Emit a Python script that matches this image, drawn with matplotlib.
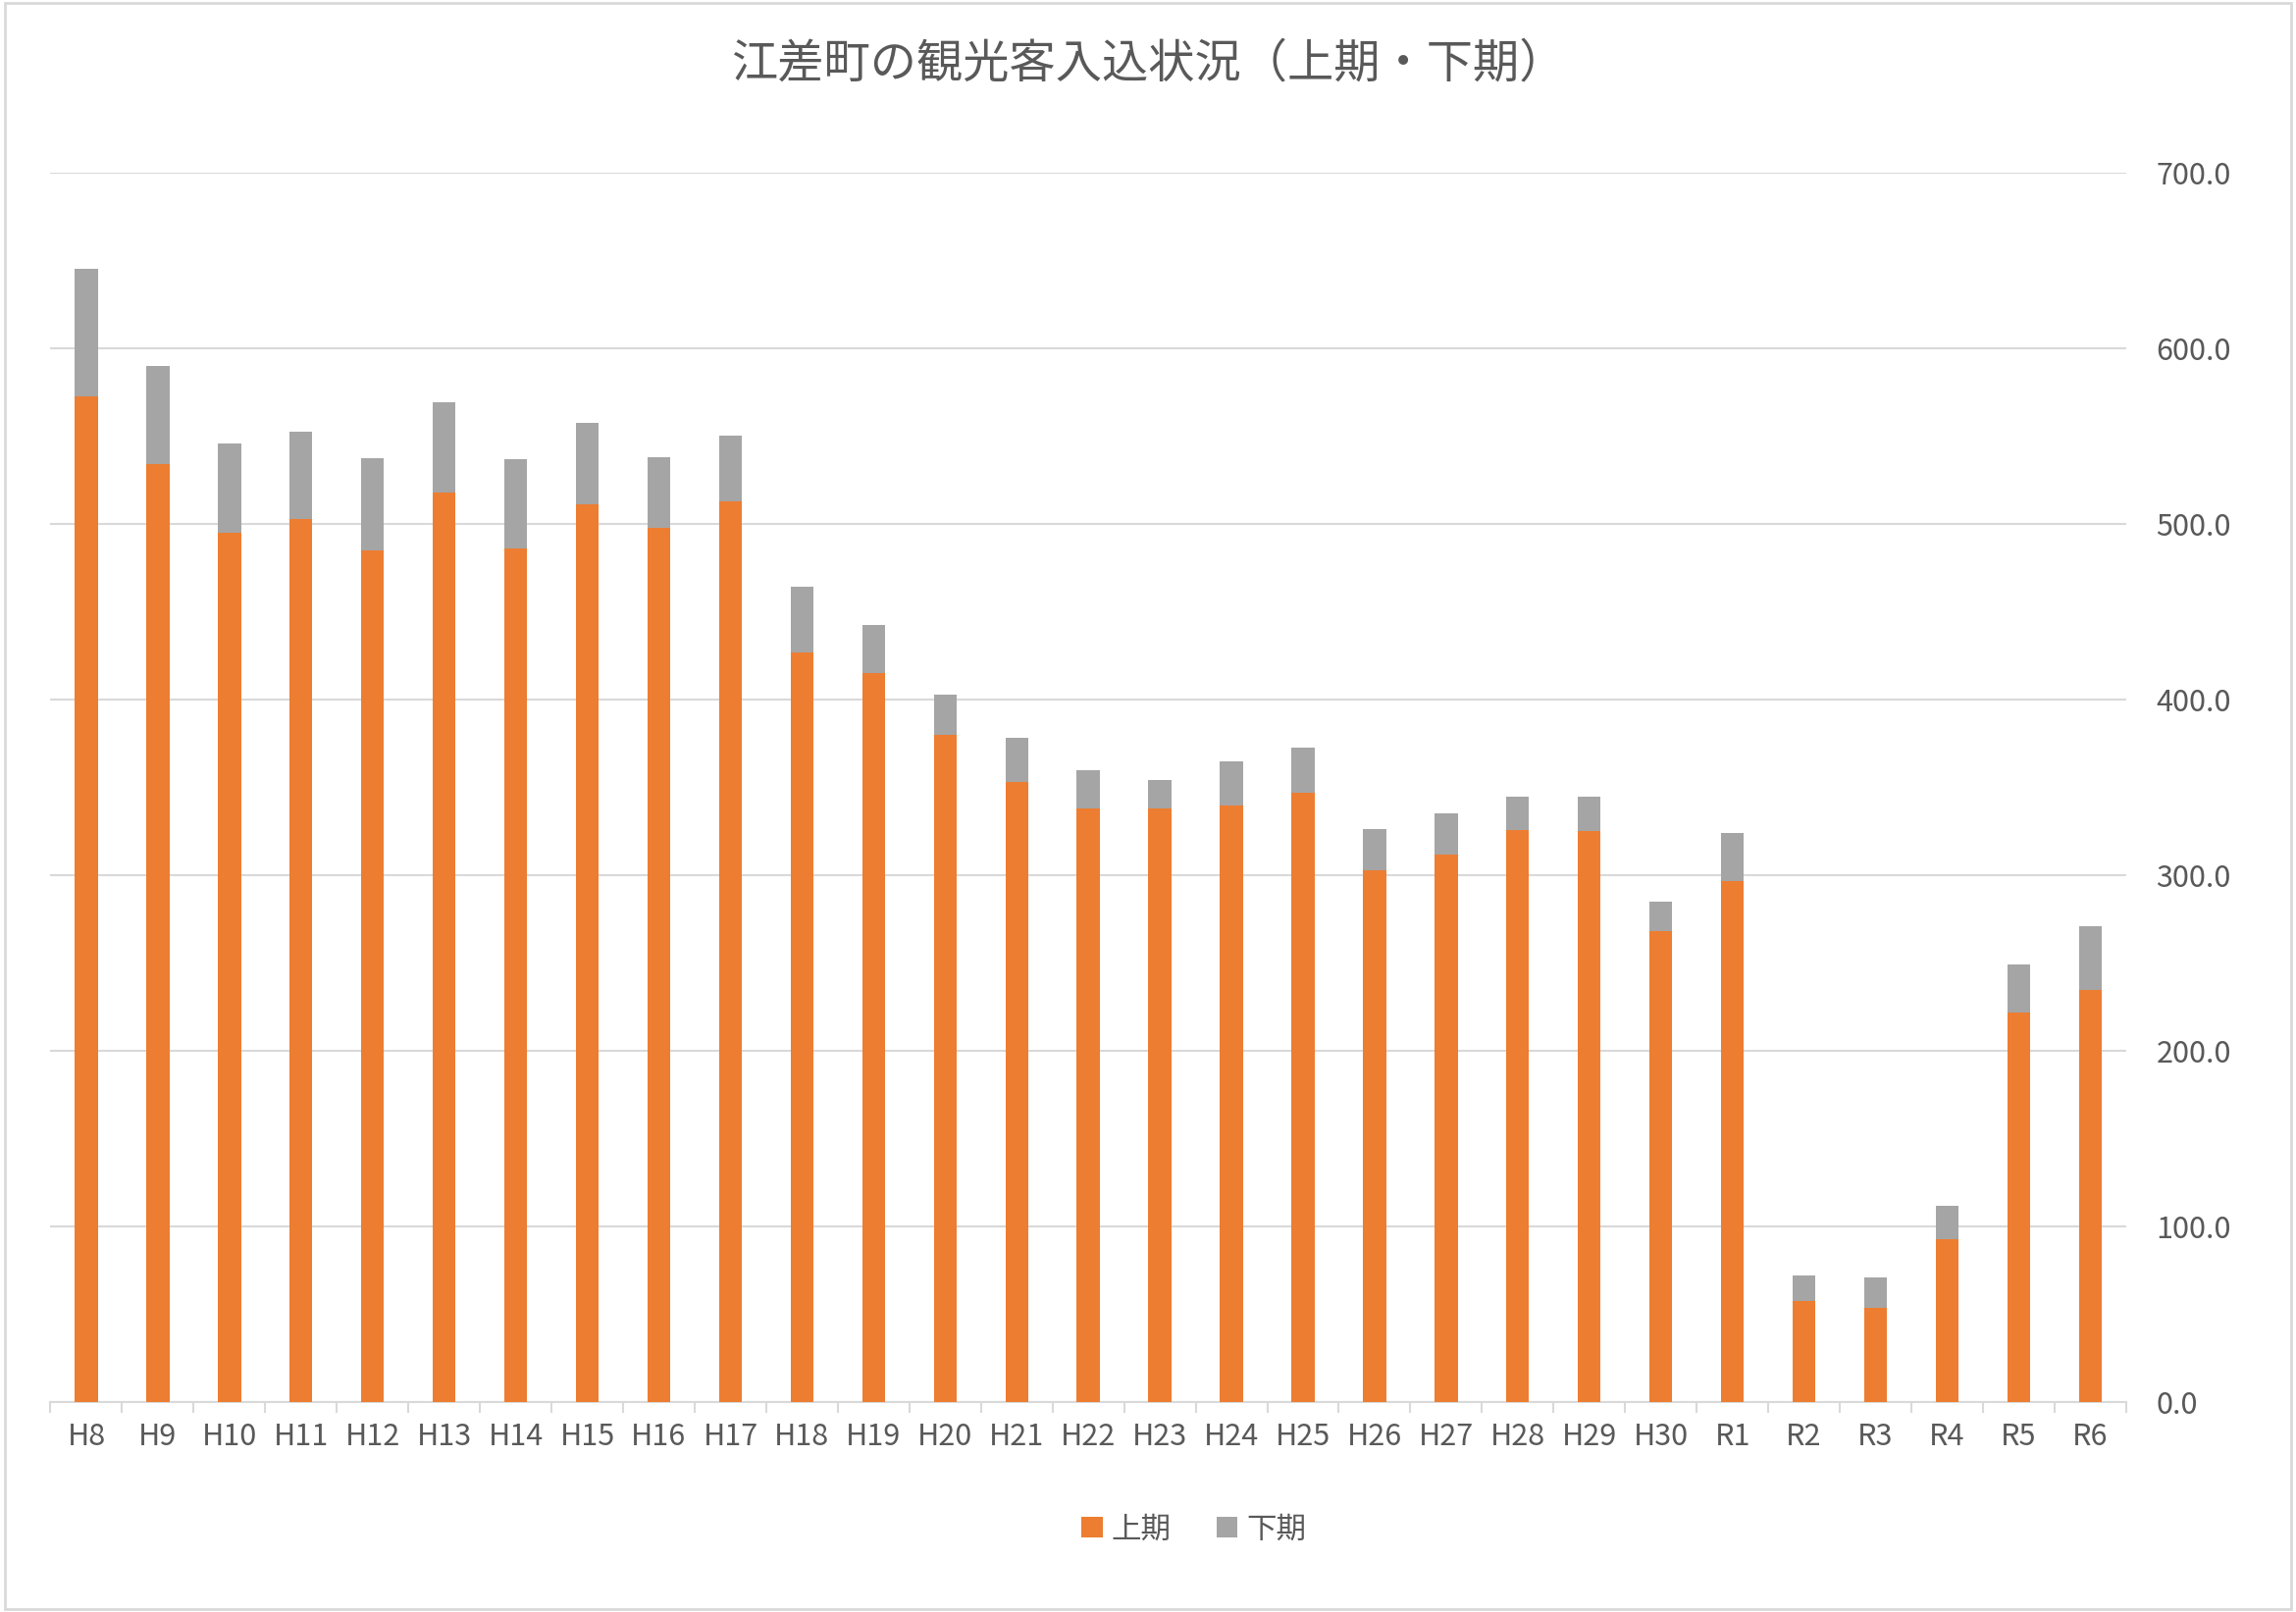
import numpy as np
import matplotlib.pyplot as plt
from matplotlib.ticker import FormatStrFormatter

plt.rcParams['font.family'] = ['Noto Sans CJK JP', 'DejaVu Sans']

labels = ["H8", "H9", "H10", "H11", "H12", "H13", "H14", "H15", "H16", "H17",
          "H18", "H19", "H20", "H21", "H22", "H23", "H24", "H25", "H26", "H27",
          "H28", "H29", "H30", "R1", "R2", "R3", "R4", "R5", "R6"]
kami = [572.5, 534, 495, 502.5, 485, 518, 486, 511, 498, 513,
        427, 415, 380, 353, 338, 338, 340, 347, 303, 312,
        326, 325, 268, 297, 58, 54, 93, 222, 235]
total = [645, 590, 546, 552.5, 537.5, 569, 537, 557.5, 538, 550,
         464, 442.5, 403, 378, 360, 354, 365, 372.5, 326.5, 335,
         345, 345, 285, 324, 72.5, 71, 112, 249, 271]
shimo = [t - k for t, k in zip(total, kami)]

txt = "#595959"
fig = plt.figure(figsize=(23.4, 16.43), dpi=100)
ax = fig.add_axes([0.022, 0.130, 0.904, 0.763])
x = np.arange(len(labels))
ax.bar(x, kami, width=0.32, color="#ED7D31", label="上期", zorder=3)
ax.bar(x, shimo, width=0.32, bottom=kami, color="#A5A5A5", label="下期", zorder=3)

ax.set_xlim(-0.5, len(labels) - 0.5)
ax.set_ylim(0, 700)
ax.set_yticks(np.arange(0, 701, 100))
ax.yaxis.set_major_formatter(FormatStrFormatter("%.1f"))
ax.yaxis.tick_right()
ax.grid(axis="y", color="#D9D9D9", linewidth=1.5, zorder=0)
for s in ["top", "left", "right"]:
    ax.spines[s].set_visible(False)
ax.spines["bottom"].set_color("#D9D9D9")
ax.spines["bottom"].set_linewidth(1.5)
ax.set_xticks(x)
ax.set_xticklabels(labels)
ax.set_xticks(np.arange(-0.5, len(labels), 1), minor=True)
ax.tick_params(axis="x", which="major", length=0, labelsize=22, labelcolor=txt, pad=14)
ax.tick_params(axis="x", which="minor", length=8, color="#D9D9D9", width=1.5)
ax.tick_params(axis="y", length=0, labelsize=22, labelcolor=txt, pad=22)

fig.suptitle("江差町の観光客入込状況（上期・下期）", fontsize=34, color=txt, y=0.975)
fig.legend(loc="lower center", bbox_to_anchor=(0.52, 0.025), ncol=2, frameon=False,
           fontsize=22, labelcolor=txt, handlelength=0.7, handleheight=0.7,
           columnspacing=1.5, handletextpad=0.3)
fig.patches.append(plt.Rectangle((0.002, 0.002), 0.996, 0.996, transform=fig.transFigure,
                                 fill=False, edgecolor="#D9D9D9", linewidth=2))
fig.savefig("out.png", dpi=100)
